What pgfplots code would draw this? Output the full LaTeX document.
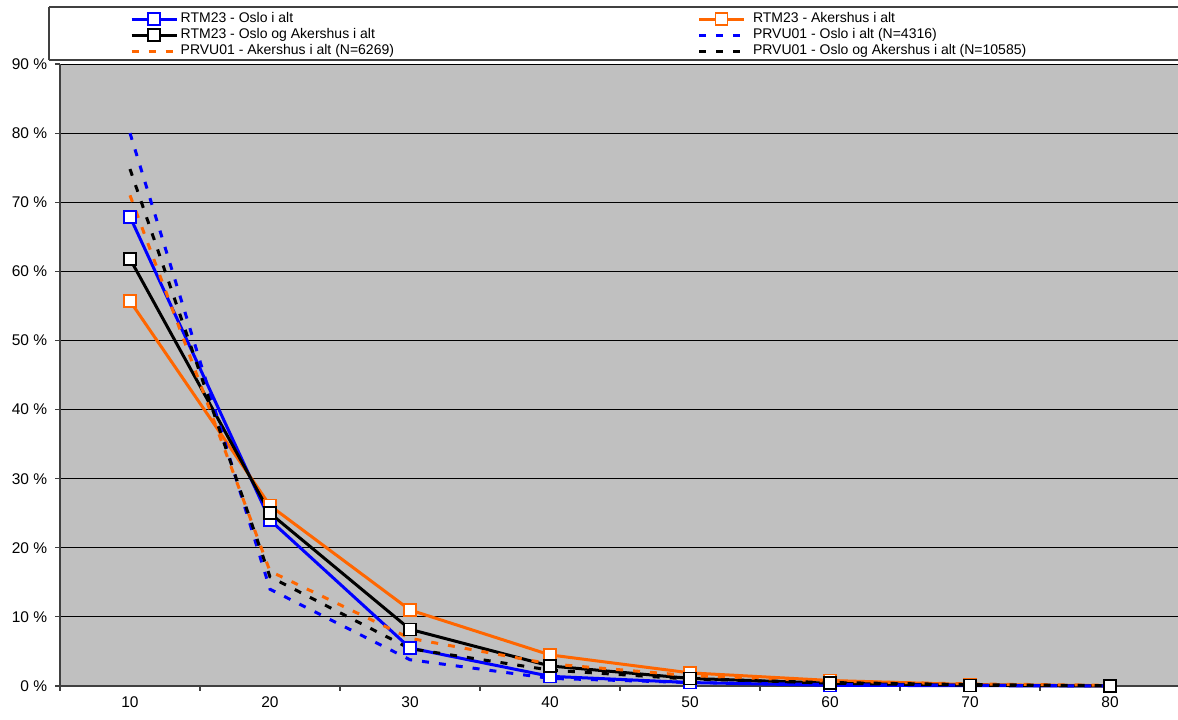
\documentclass[border=0pt]{standalone}
\usepackage{fontspec}
\setmainfont{Liberation Sans}
\usepackage{pgfplots}
\pgfplotsset{compat=1.18}
\definecolor{rblue}{RGB}{0,0,255}
\definecolor{rorange}{RGB}{255,102,0}
\definecolor{plotgray}{RGB}{192,192,192}
\definecolor{axgray}{RGB}{64,64,64}

\pgfplotstableread{
x  ro   ra   rt   po   pa   pt
10 67.9 55.7 61.8 80.0 71.0 74.8
20 24.0 26.1 25.0 14.0 16.6 15.8
30 5.5  11.0 8.2  3.8  6.9  5.4
40 1.4  4.5  2.9  1.1  3.2  2.3
50 0.5  1.9  1.1  0.5  1.5  1.0
60 0.1  0.8  0.4  0.2  0.7  0.5
70 0.05 0.2  0.1  0.1  0.3  0.2
80 0.0  0.05 0.0  0.0  0.1  0.05
}\data

\begin{document}
\fontsize{14}{16}\selectfont
\begin{tikzpicture}[x=1pt,y=1pt]
\useasboundingbox (0,0) rectangle (1178,720);
\draw[axgray, line width=1.2pt] (49,713) -- (1190,713);
\draw[axgray, line width=1.2pt] (49,660) -- (1190,660);
\draw[axgray, line width=1.2pt] (49,713) -- (49,660);
\begin{axis}[
  at={(60pt,34pt)}, anchor=south west,
  scale only axis, width=1120pt, height=622pt,
  xmin=5, xmax=85, ymin=0, ymax=90,
  axis background/.style={fill=plotgray},
  axis lines*=left,
  axis line style={draw=axgray, line width=1.5pt},
  xtick={10,20,30,40,50,60,70,80},
  xticklabels={10,20,30,40,50,60,70,80},
  major x tick style={draw=none},
  minor xtick={5,15,25,35,45,55,65,75,85},
  minor tick length=5pt,
  major tick length=5pt,
  tick align=outside,
  tick style={axgray, line width=1.2pt},
  ytick={0,10,20,30,40,50,60,70,80,90},
  yticklabels={0 \%,10 \%,20 \%,30 \%,40 \%,50 \%,60 \%,70 \%,80 \%,90 \%},
  ymajorgrids,
  major grid style={black, line width=1pt},
  tick label style={font=\fontsize{15.5}{17}\selectfont},
  yticklabel style={xshift=-3pt},
  xticklabel style={yshift=-1pt},
  clip=false,
  legend columns=2,
  legend style={
    draw=none, fill=none,
    at={(70pt,675pt)}, anchor=north west,
    font=\fontsize{14}{16}\selectfont,
    inner sep=0pt, row sep=0pt,
    nodes={inner sep=0.5pt, text height=10.5pt, text depth=4.5pt, anchor=west},
    /tikz/column 1/.append style={column sep=2pt},
    /tikz/column 2/.append style={column sep=303pt},
    /tikz/column 3/.append style={column sep=7pt},
    legend cell align=left,
  },
  legend image code/.code={%
    \draw[mark repeat=2,mark phase=2] plot coordinates {(0pt,0pt) (22.5pt,0pt) (45pt,0pt)};},
  every axis plot/.append style={line width=3pt},
  rtm/.style={mark=square*, mark size=6pt, mark options={solid, fill=white, line width=1.6pt}},
  prvu/.style={dash pattern=on 7pt off 10pt},
]
\addplot[rblue, rtm] table[x=x,y=ro] {\data};
\addlegendentry{RTM23 - Oslo i alt}
\addplot[rorange, rtm] table[x=x,y=ra] {\data};
\addlegendentry{RTM23 - Akershus i alt}
\addplot[black, rtm] table[x=x,y=rt] {\data};
\addlegendentry{RTM23 - Oslo og Akershus i alt}
\addplot[rblue, prvu] table[x=x,y=po] {\data};
\addlegendentry{PRVU01 - Oslo i alt (N=4316)}
\addplot[rorange, prvu] table[x=x,y=pa] {\data};
\addlegendentry{PRVU01 - Akershus i alt (N=6269)}
\addplot[black, prvu] table[x=x,y=pt] {\data};
\addlegendentry{PRVU01 - Oslo og Akershus i alt (N=10585)}
\end{axis}
\end{tikzpicture}
\end{document}
